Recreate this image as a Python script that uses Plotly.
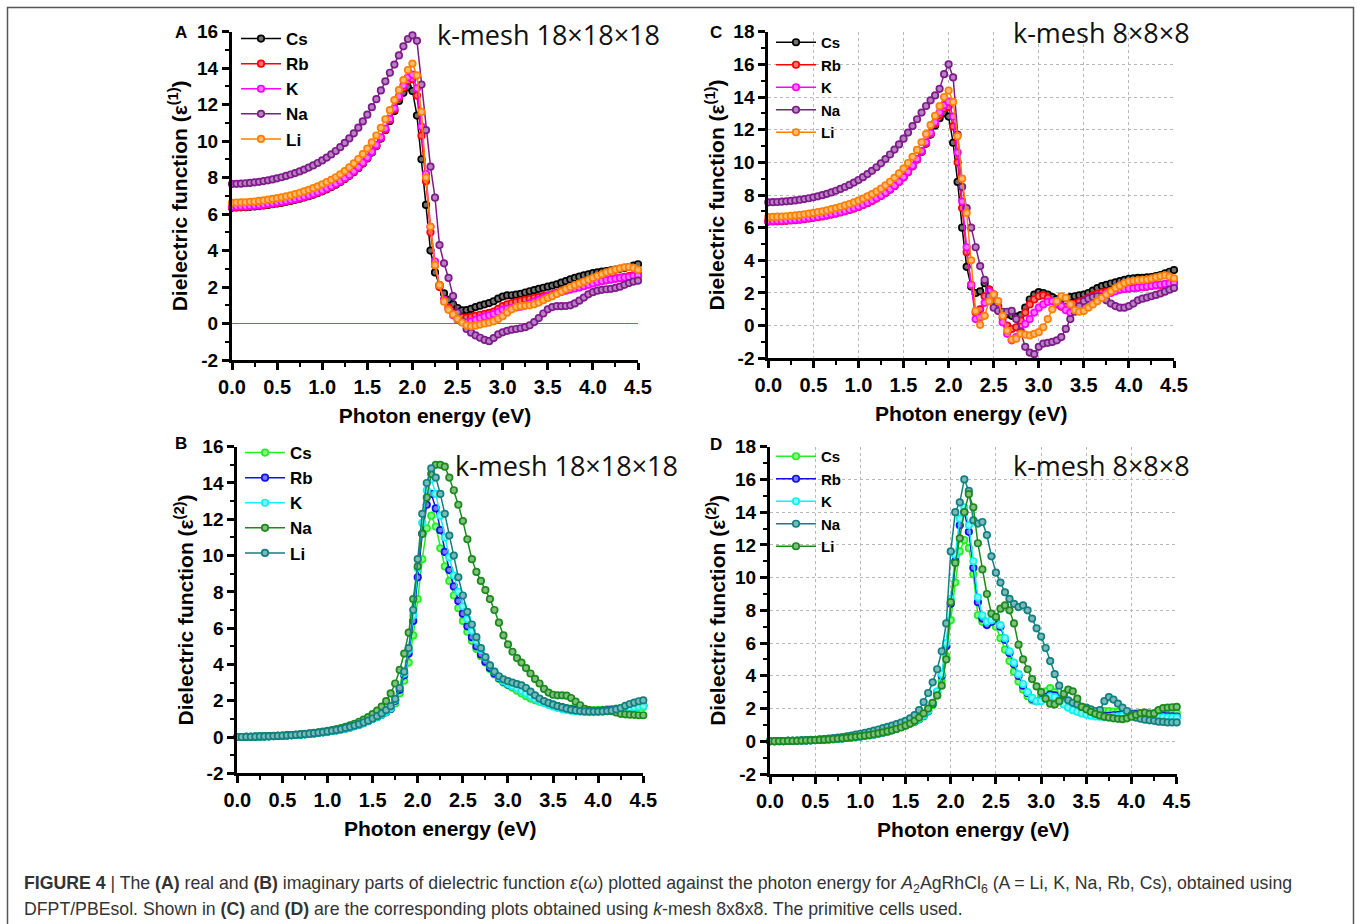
import plotly.graph_objects as go

W, H = 1357, 924

# ---------------- data ----------------
energy = [round(0.05 * i, 2) for i in range(91)]  # photon energy grid (eV)
species = ["Cs", "Rb", "K", "Na", "Li"]

# Panel A: real part, k-mesh 18x18x18
A_Cs = [6.35,6.36,6.37,6.38,6.40,6.42,6.44,6.47,6.50,6.54, 6.58,6.62,6.67,6.72,6.78,6.84,6.91,6.98,7.06,7.15,
        7.25,7.36,7.48,7.61,7.76,7.92,8.10,8.30,8.52,8.77, 9.05,9.37,9.73,10.14,10.60,11.10,11.65,12.20,12.65,12.95,
        12.75,11.4,9.0,6.5,4.0,2.8,2.1,1.65,1.3,1.05, 0.85,0.72,0.74,0.8,0.9,0.98,1.05,1.12,1.22,1.36,
        1.48,1.54,1.55,1.58,1.63,1.7,1.77,1.83,1.9,1.96, 2.02,2.08,2.15,2.24,2.33,2.42,2.5,2.57,2.64,2.7,
        2.76,2.8,2.84,2.88,2.92,2.96,3.0,3.05,3.1,3.17,3.25]
A_Rb = [6.37,6.38,6.39,6.40,6.42,6.44,6.46,6.49,6.52,6.56, 6.60,6.64,6.69,6.74,6.80,6.86,6.93,7.00,7.08,7.17,
        7.27,7.38,7.50,7.63,7.78,7.94,8.12,8.32,8.54,8.79, 9.07,9.39,9.75,10.16,10.63,11.15,11.72,12.35,12.9,13.3,
        13.4,12.5,10.3,7.8,5.0,3.2,2.0,1.3,0.9,0.6, 0.42,0.33,0.32,0.36,0.42,0.48,0.53,0.58,0.65,0.8,
        0.95,1.05,1.12,1.18,1.24,1.3,1.35,1.4,1.45,1.5, 1.55,1.6,1.68,1.78,1.88,1.95,2.02,2.08,2.13,2.18,
        2.22,2.27,2.32,2.37,2.42,2.47,2.52,2.56,2.6,2.65,2.7]
A_K = [6.40,6.41,6.42,6.43,6.45,6.47,6.49,6.52,6.55,6.59, 6.63,6.67,6.72,6.77,6.83,6.89,6.96,7.03,7.11,7.20,
       7.30,7.41,7.53,7.66,7.81,7.97,8.15,8.35,8.57,8.82, 9.10,9.42,9.79,10.21,10.69,11.22,11.80,12.45,13.05,13.5,
       13.65,12.9,10.8,8.2,5.3,3.4,2.1,1.3,0.8,0.45, 0.2,0.08,0.05,0.1,0.2,0.3,0.38,0.45,0.52,0.62,
       0.75,0.82,0.85,0.88,0.92,1.0,1.1,1.2,1.3,1.4, 1.5,1.58,1.65,1.73,1.8,1.86,1.92,1.98,2.05,2.12,
       2.2,2.27,2.33,2.38,2.42,2.46,2.5,2.53,2.56,2.6,2.62]
A_Na = [7.65,7.66,7.67,7.69,7.71,7.74,7.77,7.81,7.85,7.90, 7.96,8.02,8.09,8.17,8.25,8.34,8.44,8.55,8.67,8.80,
        8.94,9.10,9.27,9.46,9.67,9.90,10.15,10.43,10.74,11.08, 11.45,11.86,12.30,12.78,13.28,13.75,14.2,14.7,15.2,15.6,
        15.8,15.5,13.1,10.6,8.6,6.9,4.3,3.3,2.5,1.5, 0.6,0.1,-0.3,-0.5,-0.65,-0.78,-0.9,-0.97,-0.8,-0.6,
        -0.48,-0.4,-0.34,-0.3,-0.26,-0.2,-0.1,0.08,0.3,0.55, 0.78,0.9,0.95,0.95,0.96,1.0,1.1,1.25,1.42,1.6,
        1.72,1.8,1.85,1.88,1.9,1.95,2.02,2.12,2.22,2.3,2.35]
A_Li = [6.62,6.63,6.64,6.65,6.67,6.69,6.72,6.75,6.79,6.83, 6.87,6.92,6.97,7.03,7.10,7.17,7.25,7.33,7.42,7.52,
        7.63,7.75,7.88,8.02,8.18,8.36,8.56,8.78,9.02,9.29, 9.59,9.93,10.31,10.73,11.2,11.7,12.25,12.8,13.35,13.9,
        14.25,13.6,11.6,8.0,5.3,3.2,2.1,1.2,0.75,0.5, 0.25,0.05,-0.1,-0.15,-0.12,-0.06,0.0,0.05,0.12,0.25,
        0.4,0.6,0.78,0.9,0.95,0.97,1.0,1.05,1.15,1.28, 1.4,1.5,1.62,1.75,1.88,2.0,2.1,2.2,2.3,2.4,
        2.5,2.6,2.7,2.8,2.88,2.95,3.02,3.08,3.1,3.05,2.95]

# Panel C: real part, k-mesh 8x8x8
C_Cs = [6.40,6.41,6.42,6.43,6.45,6.47,6.49,6.52,6.55,6.59, 6.63,6.67,6.72,6.77,6.83,6.89,6.96,7.03,7.11,7.20,
        7.30,7.41,7.53,7.66,7.81,7.97,8.15,8.35,8.57,8.82, 9.10,9.42,9.78,10.19,10.65,11.15,11.7,12.25,12.7,13.0,
        12.8,11.2,8.8,6.0,3.6,2.4,2.0,2.1,2.6,2.2, 1.5,0.95,0.8,0.7,0.6,0.55,0.65,1.1,1.6,1.9,
        2.05,2.0,1.9,1.75,1.62,1.6,1.68,1.75,1.8,1.85, 1.9,2.0,2.15,2.3,2.42,2.5,2.58,2.65,2.72,2.8,
        2.87,2.9,2.92,2.93,2.95,2.98,3.03,3.1,3.2,3.3,3.4]
C_Rb = [6.37,6.38,6.39,6.40,6.42,6.44,6.46,6.49,6.52,6.56, 6.60,6.64,6.69,6.74,6.80,6.86,6.93,7.00,7.08,7.17,
        7.27,7.38,7.50,7.63,7.78,7.94,8.12,8.32,8.54,8.79, 9.07,9.39,9.75,10.16,10.63,11.15,11.72,12.35,12.9,13.3,
        13.4,12.2,10.0,7.2,4.5,2.5,0.8,1.0,1.8,2.2, 1.9,1.2,0.5,0.0,-0.2,-0.1,0.3,0.8,1.3,1.6,
        1.8,1.85,1.7,1.5,1.3,1.15,1.15,1.25,1.35,1.45, 1.55,1.7,1.85,1.95,2.02,2.08,2.13,2.18,2.22,2.25,
        2.28,2.3,2.32,2.35,2.38,2.42,2.46,2.5,2.54,2.57,2.6]
C_K = [6.40,6.41,6.42,6.43,6.45,6.47,6.49,6.52,6.55,6.59, 6.63,6.67,6.72,6.77,6.83,6.89,6.96,7.03,7.11,7.20,
       7.30,7.41,7.53,7.66,7.81,7.97,8.15,8.35,8.57,8.82, 9.10,9.42,9.79,10.21,10.69,11.22,11.80,12.45,13.05,13.5,
       13.7,12.8,10.6,7.6,4.8,2.5,0.4,0.5,1.4,2.1, 1.9,1.0,0.2,-0.5,-0.9,-0.7,-0.3,0.1,0.4,0.8,
       1.1,1.3,1.45,1.5,1.35,1.2,0.95,0.8,0.9,1.1, 1.25,1.4,1.55,1.7,1.82,1.92,2.0,2.1,2.2,2.25,
       2.28,2.3,2.33,2.36,2.4,2.44,2.48,2.52,2.55,2.58,2.6]
C_Na = [7.55,7.56,7.57,7.59,7.61,7.64,7.67,7.71,7.75,7.80, 7.86,7.92,7.99,8.07,8.16,8.26,8.37,8.49,8.62,8.76,
        8.92,9.09,9.28,9.48,9.7,9.94,10.2,10.48,10.78,11.1, 11.45,11.82,12.22,12.64,13.05,13.45,13.8,14.1,14.5,15.4,
        16.0,15.2,11.7,8.5,7.2,6.0,4.8,3.65,2.8,1.8, 1.1,0.9,0.85,0.85,0.9,0.4,-0.4,-1.3,-1.65,-1.75,
        -1.3,-1.1,-1.05,-1.0,-0.9,-0.7,-0.2,0.4,0.85,1.2, 1.5,1.65,1.75,1.8,1.75,1.55,1.35,1.2,1.1,1.1,
        1.2,1.35,1.55,1.65,1.72,1.8,1.88,1.97,2.08,2.2,2.3]
C_Li = [6.65,6.66,6.67,6.68,6.70,6.72,6.75,6.78,6.82,6.86, 6.90,6.95,7.0,7.06,7.13,7.2,7.28,7.36,7.45,7.55,
        7.66,7.78,7.91,8.05,8.21,8.39,8.59,8.81,9.05,9.32, 9.62,9.96,10.34,10.76,11.23,11.73,12.28,12.85,13.45,14.0,
        14.4,13.7,11.6,9.0,6.9,4.0,0.9,0.05,0.6,1.5, 1.9,1.5,0.6,-0.3,-0.85,-0.8,-0.5,-0.55,-0.6,-0.5,
        -0.4,-0.1,0.4,1.0,1.5,1.8,1.7,1.3,0.95,0.85, 0.9,1.1,1.3,1.5,1.7,1.9,2.1,2.3,2.45,2.6,
        2.7,2.75,2.78,2.8,2.82,2.88,2.95,3.02,3.08,3.0,2.9]

# Panel B: imaginary part, k-mesh 18x18x18
B_Cs = [0.0,0.0,0.01,0.01,0.02,0.02,0.03,0.04,0.05,0.06, 0.07,0.08,0.1,0.11,0.13,0.15,0.17,0.2,0.23,0.26,
        0.29,0.33,0.37,0.42,0.47,0.53,0.6,0.68,0.77,0.88, 1.0,1.1,1.22,1.36,1.55,1.85,2.4,3.1,4.1,5.6,
        7.6,9.8,11.5,12.2,11.6,10.4,9.4,8.6,7.8,7.1, 6.4,5.8,5.3,4.85,4.45,4.1,3.75,3.45,3.2,3.0,
        2.85,2.72,2.55,2.4,2.25,2.12,2.02,1.95,1.88,1.82, 1.76,1.7,1.65,1.6,1.56,1.52,1.5,1.48,1.47,1.47,
        1.48,1.5,1.52,1.54,1.56,1.58,1.6,1.62,1.64,1.65,1.66]
B_Rb = [0.0,0.0,0.01,0.01,0.02,0.02,0.03,0.04,0.05,0.06, 0.07,0.08,0.1,0.11,0.13,0.15,0.17,0.2,0.23,0.26,
        0.29,0.33,0.37,0.42,0.47,0.53,0.6,0.68,0.77,0.88, 1.0,1.1,1.22,1.37,1.55,2.0,2.6,3.4,4.6,6.4,
        8.8,11.2,12.8,13.4,12.6,11.4,10.2,9.2,8.3,7.5, 6.8,6.1,5.5,5.0,4.55,4.15,3.8,3.5,3.25,3.05,
        2.9,2.8,2.7,2.58,2.45,2.3,2.17,2.05,1.95,1.86, 1.78,1.7,1.63,1.57,1.52,1.48,1.45,1.43,1.42,1.42,
        1.43,1.45,1.47,1.5,1.53,1.56,1.6,1.64,1.68,1.72,1.75]
B_K = [0.0,0.0,0.01,0.01,0.02,0.02,0.03,0.04,0.05,0.06, 0.07,0.08,0.1,0.11,0.13,0.15,0.17,0.2,0.23,0.26,
       0.29,0.33,0.37,0.42,0.47,0.53,0.6,0.68,0.77,0.88, 1.0,1.1,1.23,1.38,1.58,2.05,2.7,3.5,4.8,6.7,
       9.3,11.8,13.6,14.2,13.4,12.2,11.0,9.9,8.9,8.0, 7.2,6.5,5.85,5.3,4.8,4.35,3.95,3.6,3.3,3.08,
       2.92,2.8,2.68,2.55,2.4,2.25,2.1,1.98,1.87,1.77, 1.68,1.6,1.54,1.49,1.45,1.42,1.4,1.38,1.37,1.37,
       1.38,1.4,1.42,1.45,1.48,1.52,1.56,1.6,1.64,1.67,1.7]
B_Na = [0.0,0.0,0.01,0.01,0.02,0.03,0.04,0.05,0.06,0.07, 0.08,0.1,0.11,0.13,0.15,0.17,0.2,0.23,0.26,0.3,
        0.34,0.38,0.43,0.49,0.56,0.64,0.73,0.84,0.96,1.1, 1.26,1.45,1.68,1.98,2.4,2.95,3.7,4.6,5.75,7.6,
        9.4,11.2,13.2,14.5,15.0,15.0,14.9,14.3,13.6,12.8, 11.9,10.9,9.8,9.1,8.6,8.1,7.6,7.0,6.3,5.6,
        5.1,4.7,4.35,4.1,3.8,3.5,3.2,2.95,2.65,2.45, 2.33,2.3,2.3,2.28,2.15,1.95,1.75,1.55,1.48,1.45,
        1.45,1.45,1.45,1.42,1.35,1.28,1.25,1.23,1.22,1.2,1.2]
B_Li = [0.0,0.0,0.01,0.01,0.02,0.03,0.03,0.04,0.05,0.06, 0.07,0.09,0.1,0.12,0.14,0.16,0.18,0.21,0.24,0.27,
        0.31,0.35,0.39,0.44,0.5,0.56,0.63,0.71,0.8,0.9, 1.02,1.15,1.3,1.48,1.7,2.1,2.7,3.6,4.9,7.0,
        9.8,12.3,14.0,14.8,14.3,13.4,12.3,11.1,10.0,8.8, 7.8,6.9,6.2,5.5,4.9,4.4,3.95,3.6,3.35,3.18,
        3.08,3.0,2.92,2.85,2.7,2.5,2.3,2.12,1.98,1.88, 1.78,1.7,1.63,1.56,1.5,1.46,1.43,1.41,1.4,1.4,
        1.4,1.41,1.43,1.46,1.52,1.6,1.72,1.82,1.9,1.97,2.02]

# Panel D: imaginary part, k-mesh 8x8x8
D_Cs = [0.0,0.0,0.01,0.01,0.02,0.02,0.03,0.04,0.05,0.06, 0.07,0.08,0.1,0.11,0.13,0.15,0.17,0.2,0.23,0.26,
        0.29,0.33,0.37,0.42,0.47,0.53,0.6,0.68,0.77,0.88, 0.98,1.08,1.2,1.34,1.52,1.8,2.2,2.8,3.7,5.2,
        7.4,9.7,11.6,12.3,11.8,10.2,7.7,7.3,7.2,7.4, 7.0,6.3,5.6,4.9,4.25,3.65,3.15,2.75,2.5,2.45,
        2.7,3.05,3.25,3.0,2.6,2.3,2.1,2.0,1.95,1.9, 1.85,1.82,1.8,1.82,1.85,1.85,1.82,1.8,1.76,1.73,
        1.7,1.7,1.7,1.7,1.7,1.7,1.7,1.7,1.72,1.72,1.72]
D_Rb = [0.0,0.0,0.01,0.01,0.02,0.02,0.03,0.04,0.05,0.06, 0.07,0.08,0.1,0.11,0.13,0.15,0.17,0.2,0.23,0.26,
        0.29,0.33,0.37,0.42,0.47,0.53,0.6,0.68,0.77,0.88, 0.98,1.08,1.2,1.35,1.55,1.85,2.3,3.0,4.0,5.8,
        8.4,11.0,13.2,14.0,12.8,10.6,8.5,7.5,7.1,7.3, 7.5,7.0,6.2,5.4,4.7,4.0,3.4,2.95,2.6,2.45,
        2.5,2.7,2.85,2.8,2.55,2.3,2.1,1.95,1.85,1.75, 1.68,1.62,1.58,1.56,1.55,1.56,1.58,1.6,1.62,1.64,
        1.65,1.66,1.66,1.65,1.63,1.6,1.57,1.55,1.53,1.52,1.5]
D_K = [0.0,0.0,0.01,0.01,0.02,0.02,0.03,0.04,0.05,0.06, 0.07,0.08,0.1,0.11,0.13,0.15,0.17,0.2,0.23,0.26,
       0.29,0.33,0.37,0.42,0.47,0.53,0.6,0.68,0.77,0.88, 0.98,1.08,1.21,1.36,1.56,1.87,2.35,3.05,4.1,6.0,
       8.7,11.4,13.6,14.3,13.2,11.0,8.8,7.7,7.3,7.4, 7.6,7.1,6.3,5.5,4.8,4.1,3.5,3.0,2.65,2.45,
       2.45,2.6,2.75,2.7,2.5,2.25,2.05,1.9,1.8,1.7, 1.62,1.56,1.52,1.5,1.48,1.48,1.5,1.52,1.55,1.57,
       1.58,1.58,1.57,1.55,1.52,1.5,1.48,1.46,1.45,1.44,1.44]
D_Na = [0.0,0.0,0.01,0.01,0.02,0.03,0.04,0.05,0.06,0.08, 0.09,0.11,0.13,0.16,0.19,0.22,0.26,0.3,0.35,0.4,
        0.46,0.52,0.58,0.65,0.72,0.8,0.88,0.96,1.05,1.14, 1.25,1.4,1.6,1.9,2.4,2.95,3.6,4.4,5.5,7.2,
        11.6,14.0,14.6,16.0,15.3,13.5,13.3,13.4,12.6,11.3, 10.3,9.7,9.1,8.7,8.4,8.2,8.3,8.0,7.5,6.9,
        6.4,5.7,4.9,4.1,3.4,2.8,2.5,2.35,2.25,2.1, 2.05,1.95,1.85,1.9,2.45,2.7,2.55,2.3,2.05,1.85,
        1.6,1.45,1.38,1.32,1.28,1.25,1.2,1.18,1.15,1.15,1.15]
D_Li = [0.0,0.0,0.01,0.01,0.02,0.02,0.03,0.04,0.05,0.06, 0.07,0.08,0.1,0.12,0.14,0.16,0.18,0.21,0.24,0.27,
        0.3,0.34,0.38,0.43,0.48,0.54,0.6,0.67,0.75,0.84, 0.95,1.08,1.25,1.45,1.7,2.0,2.35,2.8,3.4,5.0,
        8.5,10.9,12.4,14.0,15.1,14.3,12.1,10.5,9.0,7.8, 7.6,8.1,8.3,8.0,7.2,5.9,5.0,4.4,3.8,3.35,
        3.0,2.6,2.3,2.25,2.45,2.9,3.15,3.05,2.6,2.1, 1.95,1.8,1.68,1.58,1.5,1.45,1.4,1.37,1.35,1.4,
        1.5,1.62,1.72,1.75,1.68,1.7,1.9,2.02,2.05,2.08,2.1]

x_ticks = [0.0, 0.5, 1.0, 1.5, 2.0, 2.5, 3.0, 3.5, 4.0, 4.5]
x_ticklabels = ["0.0", "0.5", "1.0", "1.5", "2.0", "2.5", "3.0", "3.5", "4.0", "4.5"]
y_ticks_16 = [-2, 0, 2, 4, 6, 8, 10, 12, 14, 16]
y_ticks_18 = [-2, 0, 2, 4, 6, 8, 10, 12, 14, 16, 18]
y_ticklabels_16 = ["-2", "0", "2", "4", "6", "8", "10", "12", "14", "16"]
y_ticklabels_18 = ["-2", "0", "2", "4", "6", "8", "10", "12", "14", "16", "18"]

COL_REAL = {"Cs": "#000000", "Rb": "#ff0000", "K": "#ff00ff", "Na": "#7e1a8c", "Li": "#ff8000"}
COL_IMG_B = {"Cs": "#22ee22", "Rb": "#1010ee", "K": "#10f0f0", "Na": "#1a8a1a", "Li": "#118080"}
COL_IMG_D = {"Cs": "#22ee22", "Rb": "#1010ee", "K": "#10f0f0", "Na": "#118080", "Li": "#1a8a1a"}


def tint(hexcol, f=0.45):
    r, g, b = int(hexcol[1:3], 16), int(hexcol[3:5], 16), int(hexcol[5:7], 16)
    r, g, b = (int(c + (255 - c) * f) for c in (r, g, b))
    return f"rgb({r},{g},{b})"


panels = [
    ("A", {"Cs": A_Cs, "Rb": A_Rb, "K": A_K, "Na": A_Na, "Li": A_Li}, COL_REAL, "x", "y", "legend",
     [-2, 16], y_ticks_16, y_ticklabels_16, "(1)", False),
    ("C", {"Cs": C_Cs, "Rb": C_Rb, "K": C_K, "Na": C_Na, "Li": C_Li}, COL_REAL, "x2", "y2", "legend2",
     [-2, 18], y_ticks_18, y_ticklabels_18, "(1)", True),
    ("B", {"Cs": B_Cs, "Rb": B_Rb, "K": B_K, "Na": B_Na, "Li": B_Li}, COL_IMG_B, "x3", "y3", "legend3",
     [-2, 16], y_ticks_16, y_ticklabels_16, "(2)", False),
    ("D", {"Cs": D_Cs, "Rb": D_Rb, "K": D_K, "Na": D_Na, "Li": D_Li}, COL_IMG_D, "x4", "y4", "legend4",
     [-2, 18], y_ticks_18, y_ticklabels_18, "(2)", True),
]

fig = go.Figure()
for key, data, cols, xa, ya, lg, yr, yt, ytl, sup, grid in panels:
    for sp in species:
        c = cols[sp]
        fig.add_trace(go.Scatter(
            x=energy, y=data[sp], name=sp, mode="lines+markers",
            xaxis=xa, yaxis=ya, legend=lg, cliponaxis=False,
            line=dict(color=c, width=1.5),
            marker=dict(symbol="circle", size=6.5, color=tint(c), line=dict(color=c, width=1.7)),
        ))

domains = {
    "A": ([232 / W, 638 / W], [(H - 360) / H, (H - 31.7) / H]),
    "C": ([768.3 / W, 1174 / W], [(H - 358.3) / H, (H - 31.7) / H]),
    "B": ([237.3 / W, 643.3 / W], [(H - 773.3) / H, (H - 446.7) / H]),
    "D": ([770 / W, 1176.7 / W], [(H - 774) / H, (H - 446.7) / H]),
}

TICKFONT_X = dict(family="Liberation Sans, Arial", size=20, color="black", weight="bold")
TICKFONT_Y = dict(family="Liberation Sans, Arial", size=19, color="black", weight="bold")
TITLEFONT = dict(family="Liberation Sans, Arial", size=21, color="black", weight="bold")

layout = dict(
    template="none",
    width=W, height=H, autosize=False,
    margin=dict(l=0, r=0, t=0, b=0, pad=0, autoexpand=False),
    paper_bgcolor="white", plot_bgcolor="white",
    showlegend=True,
)

axis_names = {"A": ("xaxis", "yaxis"), "C": ("xaxis2", "yaxis2"), "B": ("xaxis3", "yaxis3"), "D": ("xaxis4", "yaxis4")}
anchors = {"A": ("y", "x"), "C": ("y2", "x2"), "B": ("y3", "x3"), "D": ("y4", "x4")}

for key, data, cols, xa, ya, lg, yr, yt, ytl, sup, grid in panels:
    xd, yd = domains[key]
    xn, yn = axis_names[key]
    xanc, yanc = anchors[key]
    layout[xn] = dict(
        domain=xd, anchor=xanc, range=[0, 4.5], tickvals=x_ticks, ticktext=x_ticklabels,
        automargin=False,
        showline=True, linecolor="black", linewidth=3, mirror=False,
        ticks="outside", ticklen=7, tickwidth=2.5, tickcolor="black",
        minor=dict(ticks="outside", ticklen=4, tickwidth=2, tickcolor="black", dtick=0.25, showgrid=False),
        tickfont=TICKFONT_X, zeroline=False,
        showgrid=grid, gridcolor="#b8b8b8", griddash="dot", gridwidth=1,
        title=dict(text="Photon energy (eV)", font=TITLEFONT, standoff=12),
    )
    layout[yn] = dict(
        domain=yd, anchor=yanc, range=yr, tickvals=yt, ticktext=ytl,
        automargin=False,
        showline=True, linecolor="black", linewidth=3, mirror=False,
        ticks="outside", ticklen=7, tickwidth=2.5, tickcolor="black",
        minor=dict(ticks="outside", ticklen=4, tickwidth=2, tickcolor="black", dtick=1, showgrid=False),
        tickfont=TICKFONT_Y, zeroline=False,
        showgrid=grid, gridcolor="#b8b8b8", griddash="dot", gridwidth=1,
        title=dict(text=f"Dielectric function (ε<sup>{sup}</sup>)", font=TITLEFONT, standoff=4),
    )

LEGFONT = dict(family="Liberation Sans, Arial", size=17, color="black", weight="bold")
legpos = {"legend": (236 / W, (H - 21) / H, 17), "legend2": (771 / W, (H - 26) / H, 15),
          "legend3": (240 / W, (H - 435) / H, 17), "legend4": (771 / W, (H - 440) / H, 15)}
for lg, (lx, ly, fs) in legpos.items():
    f = dict(LEGFONT)
    f["size"] = fs
    layout[lg] = dict(x=lx, y=ly, xanchor="left", yanchor="top", bgcolor="rgba(0,0,0,0)",
                      borderwidth=0, font=f, itemwidth=40, tracegroupgap=0,
                      traceorder="normal")

annotations = []
letters = {"A": (181, 32), "B": (181, 443), "C": (716, 32), "D": (716, 444)}
for t, (px, py) in letters.items():
    annotations.append(dict(text=t, x=px / W, y=(H - py) / H, xref="paper", yref="paper",
                            showarrow=False, xanchor="center", yanchor="middle",
                            font=dict(family="Liberation Sans, Arial", size=17, color="black", weight="bold")))
kmesh = [("k-mesh 18×18×18", 548, 34), ("k-mesh 18×18×18", 566, 466),
         ("k-mesh 8×8×8", 1101, 33), ("k-mesh 8×8×8", 1101, 465)]
for t, px, py in kmesh:
    annotations.append(dict(text=t, x=px / W, y=(H - py) / H, xref="paper", yref="paper",
                            showarrow=False, xanchor="center", yanchor="middle",
                            font=dict(family="Open Sans", size=27, color="#111111")))

cap1 = ("<b>FIGURE 4</b> | The <b>(A)</b> real and <b>(B)</b> imaginary parts of dielectric function "
        "<i>ε</i>(<i>ω</i>) plotted against the photon energy for <i>A</i><sub>2</sub>AgRhCl<sub>6</sub> "
        "(A = Li, K, Na, Rb, Cs), obtained using")
cap2 = ("DFPT/PBEsol. Shown in <b>(C)</b> and <b>(D)</b> are the corresponding plots obtained using "
        "<i>k</i>-mesh 8x8x8. The primitive cells used.")
for t, py in [(cap1, 884), (cap2, 909)]:
    annotations.append(dict(text=t, x=22 / W, y=(H - py) / H, xref="paper", yref="paper",
                            showarrow=False, xanchor="left", yanchor="middle", align="left",
                            font=dict(family="Liberation Sans, Arial", size=17.7, color="#333333")))
layout["annotations"] = annotations

layout["shapes"] = [
    dict(type="rect", xref="paper", yref="paper",
         x0=7.5 / W, x1=1353.5 / W, y0=-0.02, y1=(H - 7.5) / H,
         line=dict(color="#555555", width=1.5), fillcolor="rgba(0,0,0,0)", layer="below"),
    # red zero reference line in panel A
    dict(type="line", xref="x domain", yref="y", x0=0, x1=1, y0=0, y1=0,
         line=dict(color="#ff3b3b", width=1.2), layer="below"),
]

fig.update_layout(**layout)
fig.write_html("out.html")
